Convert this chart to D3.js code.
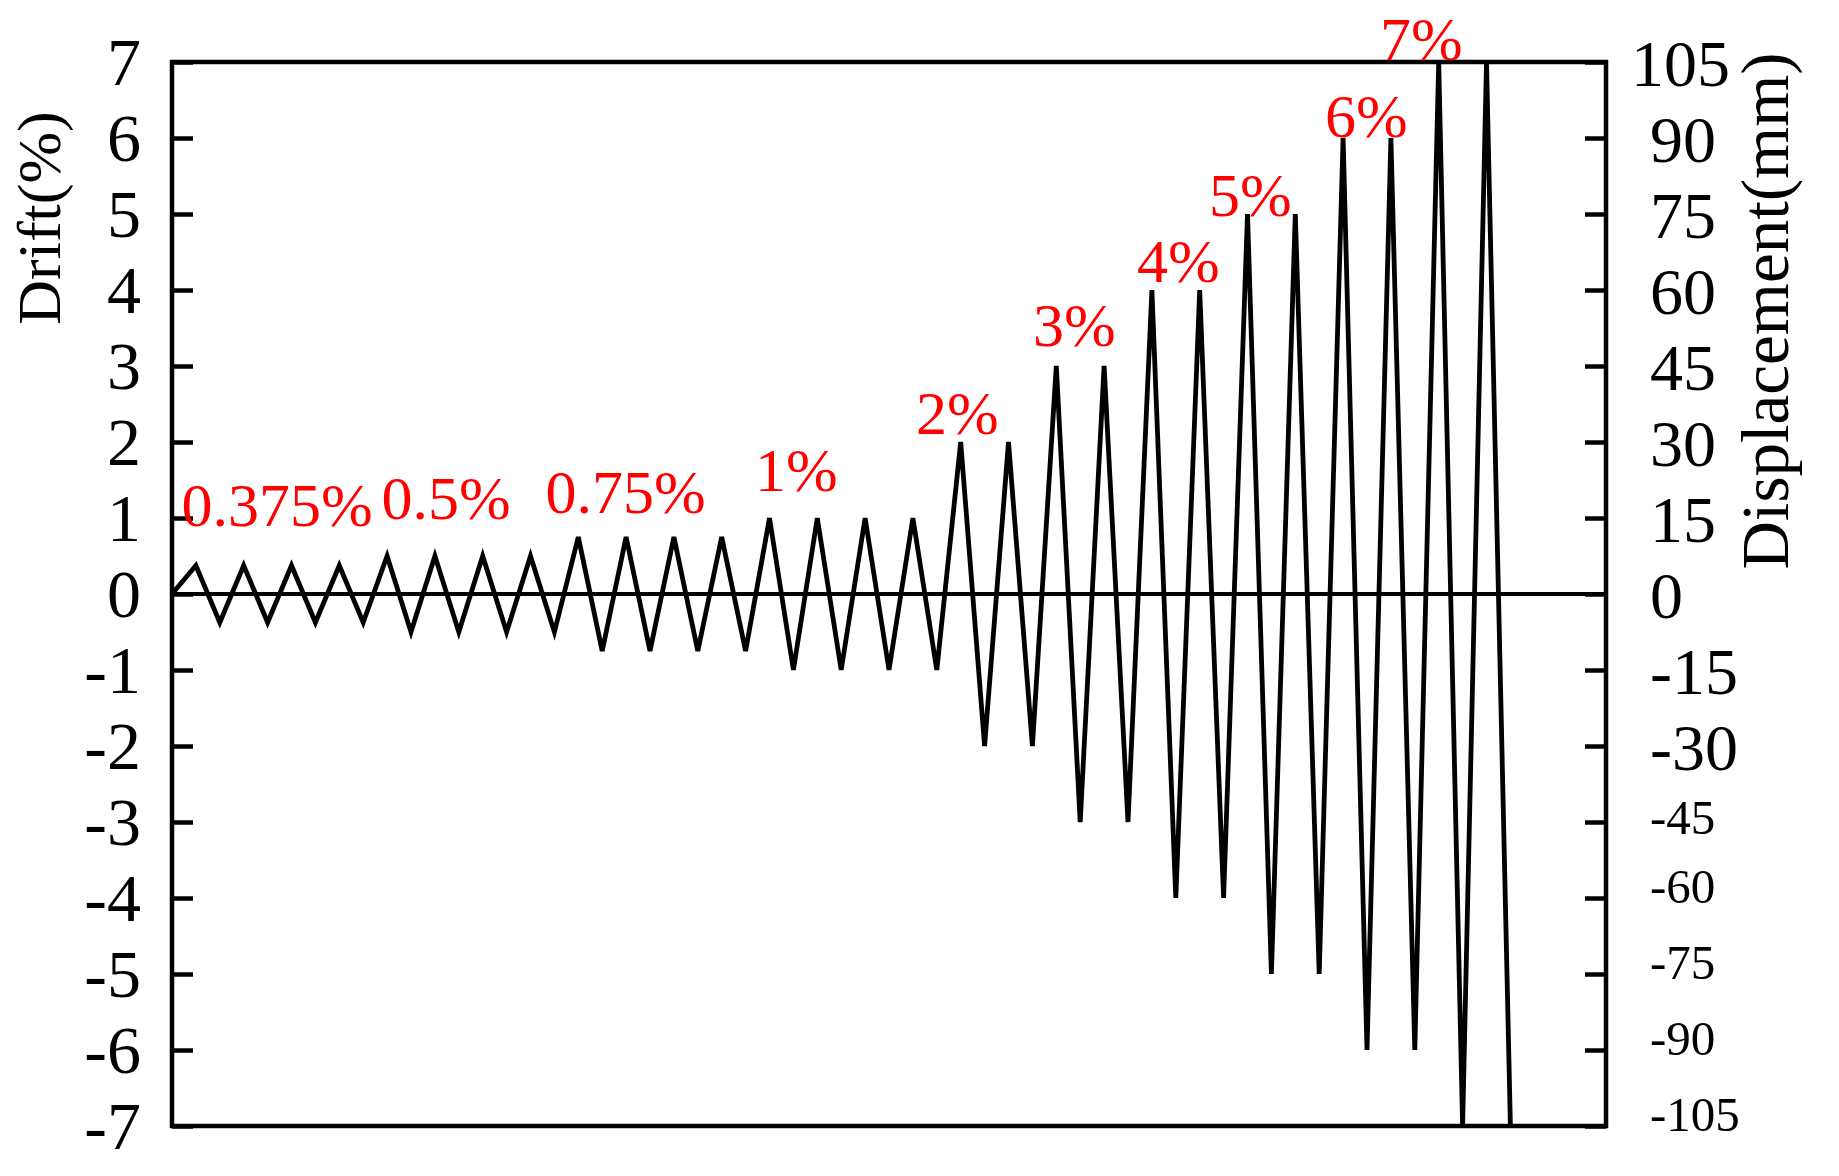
<!DOCTYPE html>
<html>
<head>
<meta charset="utf-8">
<script src="https://cdn.jsdelivr.net/npm/d3@7"></script>
<style>
  html, body { margin: 0; padding: 0; background: #fff; }
  svg { display: block; }
  text { font-family: "Liberation Serif", "Times New Roman", serif; }
</style>
</head>
<body>
<svg id="chart" width="1839" height="1176"></svg>
<script>
// ---- Data ----
const drift = [
  0,
  0.375, -0.375, 0.375, -0.375, 0.375, -0.375, 0.375, -0.375,
  0.5, -0.5, 0.5, -0.5, 0.5, -0.5, 0.5, -0.5,
  0.75, -0.75, 0.75, -0.75, 0.75, -0.75, 0.75, -0.75,
  1, -1, 1, -1, 1, -1, 1, -1,
  2, -2, 2, -2,
  3, -3, 3, -3,
  4, -4, 4, -4,
  5, -5, 5, -5,
  6, -6, 6, -6,
  7, -7, 7, -7
];
const driftTicks = [-7, -6, -5, -4, -3, -2, -1, 0, 1, 2, 3, 4, 5, 6, 7];
const dispTicks = [-105, -90, -75, -60, -45, -30, -15, 0, 15, 30, 45, 60, 75, 90, 105];
const levelLabels = ["0.375%", "0.5%", "0.75%", "1%", "2%", "3%", "4%", "5%", "6%", "7%"];
const levelLabelStep = [0.40, 8.77, 15.63, 24.39, 31.13, 36.03, 40.38, 43.39, 48.24, 50.54];
const levelLabelDrift = [0.89, 0.99, 1.07, 1.36, 2.11, 3.26, 4.10, 4.98, 6.01, 7.03];
const leftTitle = "Drift(%)";
const rightTitle = "Displacement(mm)";

// ---- Layout ----
const X0 = 172, X1 = 1606, Y0 = 62, Y1 = 1126;
const svg = d3.select("#chart");
svg.append("rect").attr("width", 1839).attr("height", 1176).attr("fill", "#fff");

const x = d3.scaleLinear().domain([0, 60]).range([X0, X1]);
const y = d3.scaleLinear().domain([-7, 7]).range([Y1, Y0]);
const y2 = d3.scaleLinear().domain([-105, 105]).range([Y1, Y0]);
const hyphenFmt = d => String(d);

svg.append("defs").append("clipPath").attr("id", "clip")
  .append("rect").attr("x", X0).attr("y", Y0).attr("width", X1 - X0).attr("height", Y1 - Y0);

// zero line
svg.append("line")
  .attr("x1", X0).attr("x2", X1).attr("y1", y(0)).attr("y2", y(0))
  .attr("stroke", "#000").attr("stroke-width", 4);

// data line
const line = d3.line().x((d, i) => x(i)).y(d => y(d));
svg.append("path")
  .datum(drift)
  .attr("clip-path", "url(#clip)")
  .attr("d", line)
  .attr("fill", "none")
  .attr("stroke", "#000")
  .attr("stroke-width", 4.8)
  .attr("stroke-linejoin", "miter");

// Left axis
const gL = svg.append("g").attr("transform", `translate(${X0},0)`)
  .call(d3.axisLeft(y).tickValues(driftTicks).tickSize(-21).tickPadding(31).tickFormat(hyphenFmt));
gL.select(".domain").remove();
gL.selectAll(".tick line").attr("stroke", "#000").attr("stroke-width", 4.5);
gL.selectAll(".tick text")
  .attr("fill", "#000")
  .style("font-family", '"Liberation Serif", "Times New Roman", serif')
  .style("font-size", "68px")
  .attr("dy", "0.33em");

// Right axis
const gR = svg.append("g").attr("transform", `translate(${X1},0)`)
  .call(d3.axisRight(y2).tickValues(dispTicks).tickSize(-21).tickPadding(44).tickFormat(hyphenFmt));
gR.select(".domain").remove();
gR.selectAll(".tick line").attr("stroke", "#000").attr("stroke-width", 4.5);
const smallDy = { "-45": 11.5, "-60": 4, "-75": 4.5, "-90": 4, "-105": 4.5 };
gR.selectAll(".tick text")
  .attr("fill", "#000")
  .style("font-family", '"Liberation Serif", "Times New Roman", serif')
  .each(function(d) {
    const t = d3.select(this);
    if (d <= -45) {
      t.style("font-size", "49px").attr("dy", smallDy[String(d)] + "px");
    } else {
      t.style("font-size", "66px").attr("dy", "0.355em");
    }
    if (d === 105) t.attr("dx", "-19px");
  });

// Frame
svg.append("rect")
  .attr("x", X0).attr("y", Y0).attr("width", X1 - X0).attr("height", Y1 - Y0)
  .attr("fill", "none").attr("stroke", "#000").attr("stroke-width", 4.5);

// Level labels
svg.append("g").selectAll("text")
  .data(levelLabels)
  .join("text")
  .attr("x", (d, i) => x(levelLabelStep[i]))
  .attr("y", (d, i) => y(levelLabelDrift[i]))
  .attr("fill", "#ff0000")
  .style("font-size", "62px")
  .text(d => d);

// Axis titles
svg.append("text")
  .attr("transform", `translate(60,218) rotate(-90)`)
  .attr("text-anchor", "middle")
  .attr("fill", "#000")
  .style("font-size", "62px")
  .text(leftTitle);

svg.append("text")
  .attr("transform", `translate(1788,311) rotate(-90)`)
  .attr("text-anchor", "middle")
  .attr("fill", "#000")
  .style("font-size", "67px")
  .text(rightTitle);
</script>
</body>
</html>
